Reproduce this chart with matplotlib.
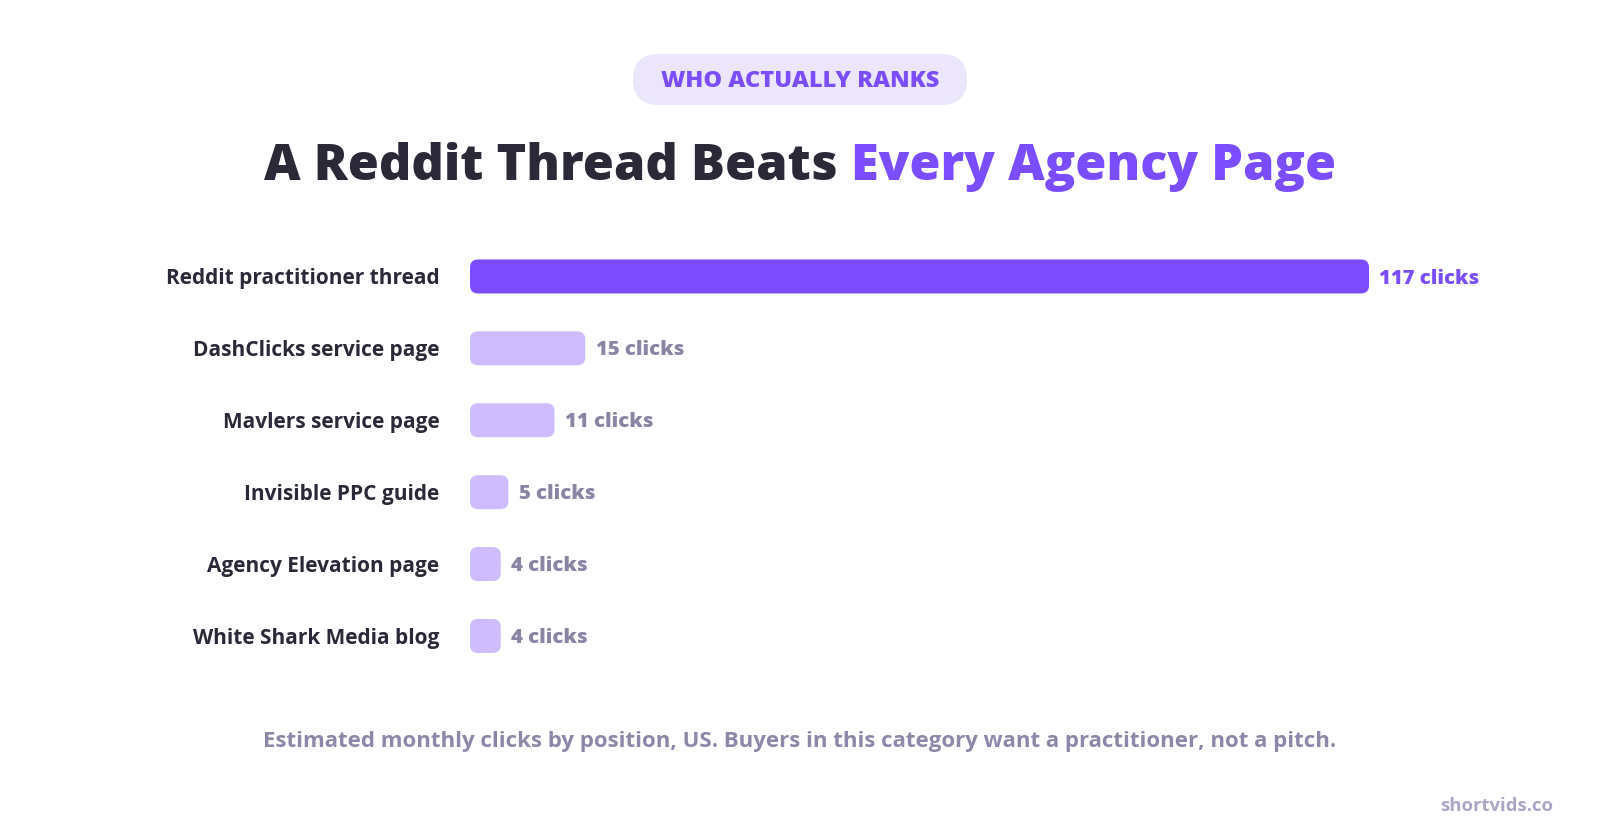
import matplotlib
matplotlib.use("Agg")
import matplotlib.pyplot as plt
from matplotlib.patches import FancyBboxPatch

categories = ["Reddit practitioner thread", "DashClicks service page", "Mavlers service page",
              "Invisible PPC guide", "Agency Elevation page", "White Shark Media blog"]
clicks = [117, 15, 11, 5, 4, 4]
value_labels = [f"{v} clicks" for v in clicks]

tag_text = "WHO ACTUALLY RANKS"
title_dark = "A Reddit Thread Beats "
title_purple = "Every Agency Page"
note_text = "Estimated monthly clicks by position, US. Buyers in this category want a practitioner, not a pitch."
brand_text = "shortvids.co"

PURPLE = "#7c4dff"
LIGHT = "#cdbdff"
DARK = "#2b2838"
GREY = "#8a85a3"
FONT = "Open Sans"

W, H, DPI = 1600, 840, 100
fig = plt.figure(figsize=(W / DPI, H / DPI), dpi=DPI)
fig.patch.set_facecolor("white")

# bar area in pixels
left_px, right_px = 470, 1369
top_px, bot_px = 240.5, 671.9
ax = fig.add_axes([left_px / W, 1 - bot_px / H, (right_px - left_px) / W, (bot_px - top_px) / H])
ax.set_xlim(0, max(clicks))
ax.set_ylim(len(categories) - 0.5, -0.5)
ax.axis("off")

ux = max(clicks) / (right_px - left_px)          # data per px, x
uy = len(categories) / (bot_px - top_px)         # data per px, y
bar_h = 34 * uy
r_px = 8

for i, (v, lab) in enumerate(zip(clicks, value_labels)):
    col = PURPLE if i == 0 else LIGHT
    p = FancyBboxPatch((0, i - bar_h / 2), v, bar_h,
                       boxstyle=f"round,pad=0,rounding_size={r_px * ux}",
                       mutation_aspect=uy / ux, fc=col, ec="none")
    ax.add_patch(p)
    ax.annotate(lab, (v, i), xytext=(7.5, -1.5), textcoords="offset points",
                ha="left", va="center", fontsize=14.6, fontweight="heavy",
                color=PURPLE if i == 0 else GREY, family=FONT)
    ax.annotate(categories[i], (0, i), xytext=(-22, -1.5), textcoords="offset points",
                ha="right", va="center", fontsize=15, fontweight="bold",
                color=DARK, family=FONT)

# tag pill
pill = FancyBboxPatch((633 / W, 1 - 105 / H), 334 / W, 51 / H,
                      boxstyle="round,pad=0,rounding_size=0.016",
                      mutation_aspect=W / H, transform=fig.transFigure,
                      fc="#ebe6fb", ec="none")
fig.patches.append(pill)
fig.text(0.5, 1 - 81 / H, tag_text, ha="center", va="center", fontsize=16.9,
         fontweight="heavy", color=PURPLE, family=FONT)

# title in two colours
fig.canvas.draw()
r = fig.canvas.get_renderer()
t1 = fig.text(0, 1 - 167 / H, title_dark, fontsize=36.3, fontweight="heavy",
              color=DARK, family=FONT, va="center")
t2 = fig.text(0, 1 - 167 / H, title_purple, fontsize=36.3, fontweight="heavy",
              color=PURPLE, family=FONT, va="center")
w1 = t1.get_window_extent(r).width
w2 = t2.get_window_extent(r).width
x0 = (W - w1 - w2) / 2
t1.set_x(x0 / W)
t2.set_x((x0 + w1) / W)

fig.text(0.5, 1 - 741 / H, note_text, ha="center", va="center", fontsize=16,
         fontweight="bold", color="#8e88a8", family=FONT)
fig.text(1553 / W, 1 - 806 / H, brand_text, ha="right", va="center", fontsize=13.3,
         fontweight="bold", color="#aaa6c4", family=FONT)

fig.savefig("out.png", dpi=DPI, facecolor="white")
